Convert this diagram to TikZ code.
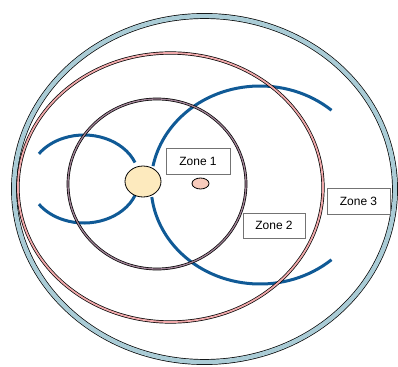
\documentclass[tikz,border=0pt]{standalone}
\usepackage{fontspec}
\setmainfont{Liberation Sans}
\definecolor{zoneRing}{RGB}{170,204,214}
\definecolor{zonePink}{RGB}{240,168,170}
\definecolor{zoneMauve}{RGB}{160,130,150}
\definecolor{fieldBlue}{RGB}{16,90,150}
\definecolor{coreYellow}{RGB}{253,234,190}
\definecolor{dotPink}{RGB}{248,203,188}
\usetikzlibrary{shapes.geometric}

\begin{document}
\begin{tikzpicture}[x=1pt,y=-1pt,
    field/.style={fieldBlue, line width=3pt},
    ring/.style={draw=black, line width=0.7pt, double=#1},
    core/.style={ellipse, draw=black, fill=#1, line width=0.8pt, inner sep=0pt},
    zonebox/.style={rectangle, draw=black!55, fill=white, line width=0.7pt,
                    minimum width=63pt, minimum height=25pt, inner sep=0pt,
                    font=\fontsize{12}{14}\selectfont}
  ]
  \useasboundingbox (0,0) rectangle (398,366);

  \coordinate (fl) at (84,179);
  \coordinate (fr) at (260,185);
  \coordinate (c1) at (157,184);
  \coordinate (c2) at (170.5,187.5);
  \coordinate (c3) at (204.5,189);

  % field lines
  \draw[field] (fl) ++(-22:55 and 44) arc[start angle=-22, end angle=-145, x radius=55, y radius=44];
  \draw[field] (fl) ++(22:55 and 44) arc[start angle=22, end angle=145, x radius=55, y radius=44];
  \draw[field] (fr) ++(-49:109 and 99) arc[start angle=-49, end angle=-169, x radius=109, y radius=99];
  \draw[field] (fr) ++(49:109 and 99) arc[start angle=49, end angle=173, x radius=109, y radius=99];

  % zone borders
  \draw[ring=zoneRing, double distance=4.4pt] (c3) ellipse [x radius=190.5, y radius=173];
  \draw[ring=zonePink, double distance=1.8pt] (c2) ellipse [x radius=152.5, y radius=134.5];
  \draw[ring=zoneMauve, double distance=1.3pt] (c1) ellipse [x radius=89, y radius=85];

  \node[core=coreYellow, minimum width=36pt, minimum height=31pt] (sun) at (143,181.5) {};
  \node[core=dotPink, minimum width=17pt, minimum height=11pt] (dot) at (200.5,183.5) {};

  \node[zonebox, minimum width=64pt, minimum height=26pt] (z1) at (198,161) {Zone 1};
  \node[zonebox, minimum width=62pt] (z2) at (274,225.5) {Zone 2};
  \node[zonebox, minimum height=26pt] (z3) at (358.5,201) {Zone 3};
\end{tikzpicture}
\end{document}
